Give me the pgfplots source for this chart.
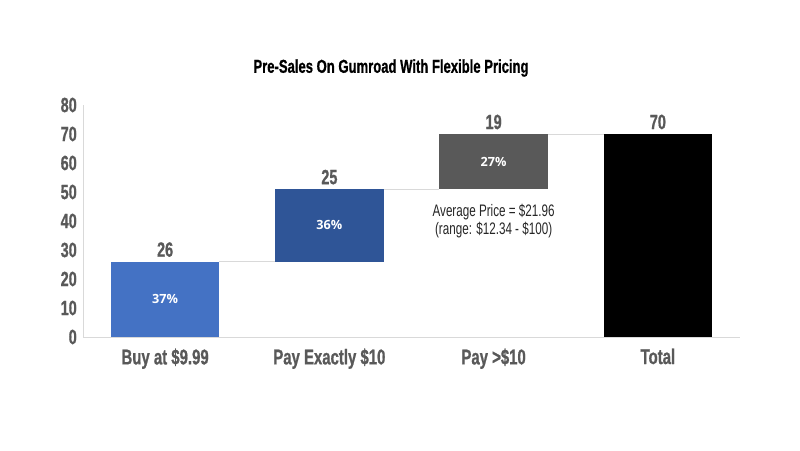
\documentclass[border=0pt]{standalone}
\usepackage{pgfplots}
\pgfplotsset{compat=1.18}
\usepackage{fontspec}
\setmainfont{Liberation Sans}[FakeStretch=0.7, BoldFeatures={FakeBold=0.8}]
\newfontfamily\pctfont{Open Sans}
\definecolor{bA}{HTML}{4472C4}
\definecolor{bB}{HTML}{2F5597}
\definecolor{bC}{HTML}{595959}
\definecolor{tk}{HTML}{595959}
\definecolor{ln}{HTML}{D9D9D9}
\begin{document}
\begin{tikzpicture}
\path[use as bounding box, fill=white] (0pt,0pt) rectangle (600pt,337.5pt);
\node[font=\bfseries\fontsize{14}{16}\selectfont, text=black] at (293.25pt,286.5pt) {Pre-Sales On Gumroad With Flexible Pricing};
\begin{axis}[
  at={(62.25pt,84.75pt)}, anchor=south west,
  scale only axis, width=492.75pt, height=174pt,
  xmin=-0.5, xmax=3.5, ymin=0, ymax=80,
  ybar stacked, bar width=0.66,
  axis lines=left, axis line style={draw=ln, -},
  xtick={0,1,2,3},
  xticklabels={Buy at \$9.99, Pay Exactly \$10, Pay >\$10, Total},
  ytick={0,10,...,80},
  tick style={draw=none},
  yticklabel style={text=tk, font=\bfseries\fontsize{15.5}{17}\selectfont, xshift=1pt},
  xticklabel style={text=tk, font=\bfseries\fontsize{16}{18}\selectfont, yshift=-3pt},
  /pgf/number format/assume math mode=true,
  clip=false,
]
\addplot[draw=none, fill=none] coordinates {(0,0) (1,26) (2,51) (3,0)};
\addplot[draw=none, fill=bA] coordinates {(0,26) (1,0) (2,0) (3,0)};
\addplot[draw=none, fill=bB] coordinates {(0,0) (1,25) (2,0) (3,0)};
\addplot[draw=none, fill=bC] coordinates {(0,0) (1,0) (2,19) (3,0)};
\addplot[draw=none, fill=black] coordinates {(0,0) (1,0) (2,0) (3,70)};
\end{axis}
\begin{axis}[
  at={(62.25pt,84.75pt)}, anchor=south west,
  scale only axis, width=492.75pt, height=174pt,
  xmin=-0.5, xmax=3.5, ymin=0, ymax=80,
  axis lines=none, clip=false,
]
\addplot[ln, line width=0.6pt, no marks] coordinates {(0.33,26) (0.67,26)};
\addplot[ln, line width=0.6pt, no marks] coordinates {(1.33,51) (1.67,51)};
\addplot[ln, line width=0.6pt, no marks] coordinates {(2.33,70) (2.67,70)};
\begin{scope}[every node/.style={font=\bfseries\fontsize{15.5}{17}\selectfont, text=tk, anchor=south, yshift=0pt}]
\node at (axis cs:0,26) {26};
\node at (axis cs:1,51) {25};
\node at (axis cs:2,70) {19};
\node at (axis cs:3,70) {70};
\end{scope}
\begin{scope}[every node/.style={font=\pctfont\bfseries\fontsize{9.5}{11}\selectfont, text=white}]
\node at (axis cs:0,13) {37\%};
\node at (axis cs:1,38.5) {36\%};
\node at (axis cs:2,60.5) {27\%};
\end{scope}
\node[font=\fontsize{12.5}{14}\selectfont, text=black!85, align=center] at (axis cs:2,40) {Average Price = \$21.96\\(range: \$12.34 - \$100)};
\end{axis}
\end{tikzpicture}
\end{document}
